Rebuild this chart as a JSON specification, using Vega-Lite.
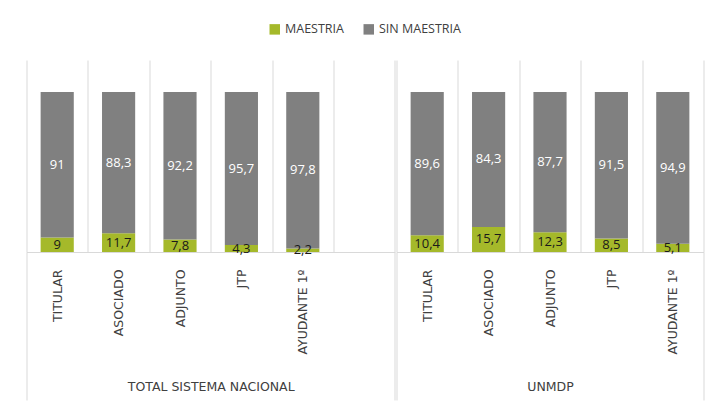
{
  "$schema": "https://vega.github.io/schema/vega-lite/v6.json",
  "background": "white",
  "padding": {"left": 25.5, "top": 23, "right": 9, "bottom": 0},
  "data": {"values": [
    {"grupo": "TOTAL SISTEMA NACIONAL", "cargo": "TITULAR", "serie": "MAESTRIA", "valor": 9},
    {"grupo": "TOTAL SISTEMA NACIONAL", "cargo": "TITULAR", "serie": "SIN MAESTRIA", "valor": 91},
    {"grupo": "TOTAL SISTEMA NACIONAL", "cargo": "ASOCIADO", "serie": "MAESTRIA", "valor": 11.7},
    {"grupo": "TOTAL SISTEMA NACIONAL", "cargo": "ASOCIADO", "serie": "SIN MAESTRIA", "valor": 88.3},
    {"grupo": "TOTAL SISTEMA NACIONAL", "cargo": "ADJUNTO", "serie": "MAESTRIA", "valor": 7.8},
    {"grupo": "TOTAL SISTEMA NACIONAL", "cargo": "ADJUNTO", "serie": "SIN MAESTRIA", "valor": 92.2},
    {"grupo": "TOTAL SISTEMA NACIONAL", "cargo": "JTP", "serie": "MAESTRIA", "valor": 4.3},
    {"grupo": "TOTAL SISTEMA NACIONAL", "cargo": "JTP", "serie": "SIN MAESTRIA", "valor": 95.7},
    {"grupo": "TOTAL SISTEMA NACIONAL", "cargo": "AYUDANTE 1º", "serie": "MAESTRIA", "valor": 2.2},
    {"grupo": "TOTAL SISTEMA NACIONAL", "cargo": "AYUDANTE 1º", "serie": "SIN MAESTRIA", "valor": 97.8},
    {"grupo": "UNMDP", "cargo": "TITULAR", "serie": "MAESTRIA", "valor": 10.4},
    {"grupo": "UNMDP", "cargo": "TITULAR", "serie": "SIN MAESTRIA", "valor": 89.6},
    {"grupo": "UNMDP", "cargo": "ASOCIADO", "serie": "MAESTRIA", "valor": 15.7},
    {"grupo": "UNMDP", "cargo": "ASOCIADO", "serie": "SIN MAESTRIA", "valor": 84.3},
    {"grupo": "UNMDP", "cargo": "ADJUNTO", "serie": "MAESTRIA", "valor": 12.3},
    {"grupo": "UNMDP", "cargo": "ADJUNTO", "serie": "SIN MAESTRIA", "valor": 87.7},
    {"grupo": "UNMDP", "cargo": "JTP", "serie": "MAESTRIA", "valor": 8.5},
    {"grupo": "UNMDP", "cargo": "JTP", "serie": "SIN MAESTRIA", "valor": 91.5},
    {"grupo": "UNMDP", "cargo": "AYUDANTE 1º", "serie": "MAESTRIA", "valor": 5.1},
    {"grupo": "UNMDP", "cargo": "AYUDANTE 1º", "serie": "SIN MAESTRIA", "valor": 94.9}
  ]},
  "config": {
    "locale": {"number": {"decimal": ",", "thousands": ".", "grouping": [3], "currency": ["", " €"]}},
    "view": {"stroke": null},
    "font": "Open Sans",
    "concat": {"spacing": 0},
    "axisX": {
      "grid": true, "gridColor": "#D9D9D9", "gridWidth": 1,
      "domainColor": "#D9D9D9", "tickColor": "#D9D9D9", "tickSize": 148, "tickBand": "extent",
      "labelAngle": -90, "labelAlign": "right", "labelBaseline": "middle", "labelPadding": -131,
      "labelFont": "DejaVu Sans", "labelColor": "#404040",
      "titleFont": "DejaVu Sans", "titleFontSize": 12.5, "titleFontWeight": "normal", "titleColor": "#404040",
      "titleY": 134, "titleBaseline": "middle"
    },
    "legend": {
      "orient": "top", "title": null, "symbolType": "square", "symbolSize": 110,
      "labelFontSize": 12.5, "labelColor": "#404040", "labelFont": "Open Sans",
      "columnPadding": 18, "symbolStrokeWidth": 0, "offset": 24,
      "layout": {"top": {"anchor": "middle"}}
    }
  },
  "spacing": 0,
  "resolve": {"scale": {"x": "independent"}},
  "hconcat": [
    {
      "width": 368.4, "height": 192,
      "transform": [
        {"filter": "datum.grupo == 'TOTAL SISTEMA NACIONAL'"},
        {"stack": "valor", "groupby": ["cargo"], "sort": [{"field": "serie", "order": "ascending"}], "as": ["v0", "v1"]},
        {"calculate": "(datum.v0 + datum.v1) / 2", "as": "mid"}
      ],
      "encoding": {
        "x": {"field": "cargo", "type": "nominal", "sort": null,
          "scale": {"domain": ["TITULAR", "ASOCIADO", "ADJUNTO", "JTP", "AYUDANTE 1º", ""], "paddingInner": 0, "paddingOuter": 0},
          "axis": {"title": "TOTAL SISTEMA NACIONAL",
            "labelFontSize": {"condition": {"test": "datum.extra", "value": 0}, "value": 12.5},
            "tickOpacity": {"condition": {"test": "datum.extra || datum.value == ''", "value": 1}, "value": 0}}}
      },
      "layer": [
        {"mark": {"type": "bar", "width": {"band": 0.54}},
          "encoding": {
            "y": {"field": "v0", "type": "quantitative", "scale": {"domain": [0, 120]}, "axis": null},
            "y2": {"field": "v1"},
            "color": {"field": "serie", "type": "nominal", "scale": {"domain": ["MAESTRIA", "SIN MAESTRIA"], "range": ["#A5B92A", "#808080"]}}
          }},
        {"mark": {"type": "text", "fontSize": 13, "baseline": "middle"},
          "encoding": {
            "y": {"field": "mid", "type": "quantitative", "scale": {"domain": [0, 120]}, "axis": null},
            "text": {"field": "valor", "type": "quantitative", "format": ".3~r"},
            "color": {"condition": {"test": "datum.serie == 'SIN MAESTRIA'", "value": "#FFFFFF"}, "value": "#1A1A1A"}
          }}
      ]
    },
    {
      "width": 307, "height": 192,
      "transform": [
        {"filter": "datum.grupo == 'UNMDP'"},
        {"stack": "valor", "groupby": ["cargo"], "sort": [{"field": "serie", "order": "ascending"}], "as": ["v0", "v1"]},
        {"calculate": "(datum.v0 + datum.v1) / 2", "as": "mid"}
      ],
      "encoding": {
        "x": {"field": "cargo", "type": "nominal", "sort": null,
          "scale": {"domain": ["TITULAR", "ASOCIADO", "ADJUNTO", "JTP", "AYUDANTE 1º"], "paddingInner": 0, "paddingOuter": 0},
          "axis": {"title": "UNMDP",
            "labelFontSize": {"condition": {"test": "datum.extra", "value": 0}, "value": 12.5},
            "tickOpacity": {"condition": {"test": "datum.extra || datum.value == 'AYUDANTE 1º'", "value": 1}, "value": 0}}}
      },
      "layer": [
        {"mark": {"type": "bar", "width": {"band": 0.54}},
          "encoding": {
            "y": {"field": "v0", "type": "quantitative", "scale": {"domain": [0, 120]}, "axis": null},
            "y2": {"field": "v1"},
            "color": {"field": "serie", "type": "nominal", "scale": {"domain": ["MAESTRIA", "SIN MAESTRIA"], "range": ["#A5B92A", "#808080"]}}
          }},
        {"mark": {"type": "text", "fontSize": 13, "baseline": "middle"},
          "encoding": {
            "y": {"field": "mid", "type": "quantitative", "scale": {"domain": [0, 120]}, "axis": null},
            "text": {"field": "valor", "type": "quantitative", "format": ".3~r"},
            "color": {"condition": {"test": "datum.serie == 'SIN MAESTRIA'", "value": "#FFFFFF"}, "value": "#1A1A1A"}
          }}
      ]
    }
  ]
}
